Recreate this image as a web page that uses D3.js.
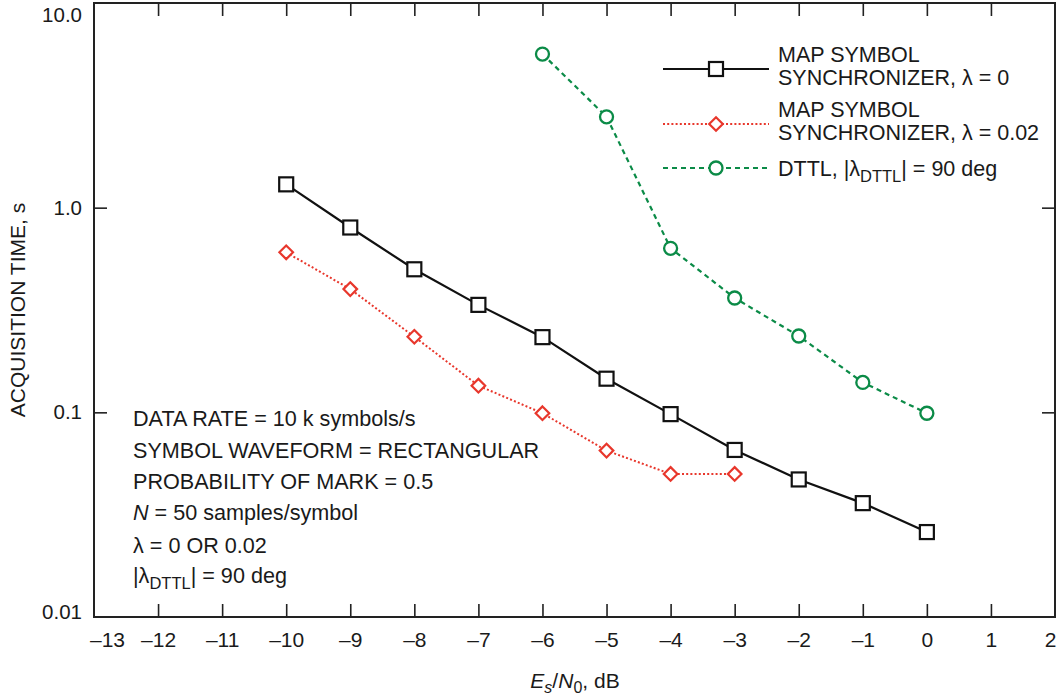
<!DOCTYPE html>
<html>
<head>
<meta charset="utf-8">
<script src="https://cdn.jsdelivr.net/npm/d3@7"></script>
<style>
  html, body { margin: 0; padding: 0; background: #fff; }
  svg { display: block; font-family: "Liberation Sans", Arial, Helvetica, sans-serif; }
  .axis path { display: none; }
  .axis line { stroke: #222; stroke-width: 1.6; }
  .axis text { fill: #1a1a1a; font-family: "Liberation Sans", Arial, sans-serif; }
</style>
</head>
<body>
<svg id="chart" width="1063" height="698"></svg>
<script>
// Es/N0 values (dB) and acquisition times (s) for each curve
const esnoMap0 = [-10, -9, -8, -7, -6, -5, -4, -3, -2, -1, 0];
const timeMap0 = [1.3, 0.8, 0.5, 0.335, 0.233, 0.146, 0.098, 0.0655, 0.047, 0.036, 0.026];

const esnoMap02 = [-10, -9, -8, -7, -6, -5, -4, -3];
const timeMap02 = [0.605, 0.40, 0.234, 0.135, 0.099, 0.065, 0.05, 0.05];

const esnoDttl = [-6, -5, -4, -3, -2, -1, 0];
const timeDttl = [5.63, 2.78, 0.633, 0.362, 0.236, 0.14, 0.099];

// axis ticks
const xTicks = [-13, -12, -11, -10, -9, -8, -7, -6, -5, -4, -3, -2, -1, 0, 1, 2];
const yTicks = [0.01, 0.1, 1, 10];
const yTickLabels = ["0.01", "0.1", "1.0", "10.0"];

// conditions listed inside the plot
const noteLines = [
  [{t: "DATA RATE = 10 k symbols/s"}],
  [{t: "SYMBOL WAVEFORM = RECTANGULAR"}],
  [{t: "PROBABILITY OF MARK = 0.5"}],
  [{t: "N", i: true}, {t: " = 50 samples/symbol"}],
  [{t: "λ = 0 OR 0.02"}],
  [{t: "|λ"}, {t: "DTTL", sub: true}, {t: "| = 90 deg", up: true}]
];

const svg = d3.select("#chart");
const L = 94, R = 1055, T = 3, B = 617;

const x = d3.scaleLinear().domain([-13, 2]).range([L, R]);
const y = d3.scaleLog().domain([0.01, 10]).range([B, T]);

const fmtX = d => d < 0 ? "\u2013" + Math.abs(d) : String(d);

// bottom axis with labels
const gB = svg.append("g").attr("class", "axis")
  .attr("transform", `translate(0,${B})`)
  .call(d3.axisBottom(x).tickValues(xTicks).tickSize(-13).tickPadding(15).tickFormat(fmtX));
gB.selectAll("text").attr("font-size", 21);
gB.selectAll(".tick").filter(d => d === -13 || d === 2).select("line").remove();
gB.selectAll(".tick").filter(d => d === -13).select("text").attr("dx", 13);
gB.selectAll(".tick").filter(d => d === 2).select("text").attr("dx", -5);

// top axis, ticks only
svg.append("g").attr("class", "axis")
  .attr("transform", `translate(0,${T})`)
  .call(d3.axisTop(x).tickValues(xTicks.slice(1, -1)).tickSize(-13).tickFormat(""));

// left axis with labels
const gL = svg.append("g").attr("class", "axis")
  .attr("transform", `translate(${L},0)`)
  .call(d3.axisLeft(y).tickValues(yTicks).tickSize(-13).tickPadding(12)
    .tickFormat((d, i) => yTickLabels[i]));
gL.selectAll("text").attr("font-size", 20.5);
gL.selectAll(".tick").filter(d => d === 10 || d === 0.01).select("line").remove();
gL.selectAll(".tick").filter(d => d === 10).select("text").attr("dy", "0.9em");
gL.selectAll(".tick").filter(d => d === 0.01).select("text").attr("dy", "0.05em");

// right axis, ticks only
svg.append("g").attr("class", "axis")
  .attr("transform", `translate(${R},0)`)
  .call(d3.axisRight(y).tickValues([0.1, 1]).tickSize(-13).tickFormat(""));

// frame
svg.append("rect")
  .attr("x", L).attr("y", T).attr("width", R - L).attr("height", B - T)
  .attr("fill", "none").attr("stroke", "#222").attr("stroke-width", 2);

// axis titles
svg.append("text")
  .attr("transform", `translate(25,${(T + B) / 2}) rotate(-90)`)
  .attr("text-anchor", "middle")
  .attr("font-size", 21).attr("fill", "#1a1a1a")
  .text("ACQUISITION TIME, s");

const xt = svg.append("text")
  .attr("x", 575).attr("y", 688)
  .attr("text-anchor", "middle")
  .attr("font-size", 21).attr("fill", "#1a1a1a");
xt.append("tspan").attr("font-style", "italic").text("E");
xt.append("tspan").attr("font-style", "italic").attr("font-size", 16).attr("dy", 5).text("s");
xt.append("tspan").attr("dy", -5).text("/");
xt.append("tspan").attr("font-style", "italic").text("N");
xt.append("tspan").attr("font-size", 16).attr("dy", 5).text("0");
xt.append("tspan").attr("dy", -5).text(", dB");

// series definitions
const series = [
  { xs: esnoMap0, ys: timeMap0, color: "#111", dash: null, width: 2.2, shape: "square" },
  { xs: esnoMap02, ys: timeMap02, color: "#e8372c", dash: "2,2.2", width: 2, shape: "diamond" },
  { xs: esnoDttl, ys: timeDttl, color: "#0b8b47", dash: "5,4", width: 2.2, shape: "circle" }
];

const line = d3.line().x(d => x(d[0])).y(d => y(d[1]));

function drawMarker(g, shape, cx, cy, color) {
  if (shape === "square") {
    g.append("rect").attr("x", cx - 7).attr("y", cy - 7).attr("width", 14).attr("height", 14)
      .attr("fill", "#fff").attr("stroke", color).attr("stroke-width", 2.2);
  } else if (shape === "diamond") {
    const r = 6.8;
    g.append("path").attr("d", `M${cx},${cy - r}L${cx + r},${cy}L${cx},${cy + r}L${cx - r},${cy}Z`)
      .attr("fill", "#fff").attr("stroke", color).attr("stroke-width", 2.2);
  } else {
    g.append("circle").attr("cx", cx).attr("cy", cy).attr("r", 6.5)
      .attr("fill", "#fff").attr("stroke", color).attr("stroke-width", 2.3);
  }
}

series.forEach(s => {
  const pts = s.xs.map((v, i) => [v, s.ys[i]]);
  const g = svg.append("g");
  g.append("path").datum(pts).attr("d", line)
    .attr("fill", "none").attr("stroke", s.color).attr("stroke-width", s.width)
    .attr("stroke-dasharray", s.dash);
  pts.forEach(p => drawMarker(g, s.shape, x(p[0]), y(p[1]), s.color));
});

// legend
const legendRows = [
  { lines: [[{t: "MAP SYMBOL"}], [{t: "SYNCHRONIZER, λ = 0"}]] },
  { lines: [[{t: "MAP SYMBOL"}], [{t: "SYNCHRONIZER, λ = 0.02"}]] },
  { lines: [[{t: "DTTL, |λ"}, {t: "DTTL", sub: true}, {t: "| = 90 deg", up: true}]] }
];
const legendLineY = [69, 124, 168];
const legendTextY = [[62, 85], [117, 140], [176]];

function writeRich(textSel, parts, subSize) {
  parts.forEach(p => {
    const ts = textSel.append("tspan").text(p.t);
    if (p.i) ts.attr("font-style", "italic");
    if (p.sub) ts.attr("font-size", subSize).attr("dy", 6);
    if (p.up) ts.attr("dy", -6);
  });
}

legendRows.forEach((row, i) => {
  const s = series[i];
  const ly = legendLineY[i];
  svg.append("line").attr("x1", 663).attr("x2", 769).attr("y1", ly).attr("y2", ly)
    .attr("stroke", s.color).attr("stroke-width", s.width).attr("stroke-dasharray", s.dash);
  drawMarker(svg.append("g"), s.shape, 716, ly, s.color);
  row.lines.forEach((parts, j) => {
    const t = svg.append("text").attr("x", 778).attr("y", legendTextY[i][j])
      .attr("font-size", 21.5).attr("fill", "#1a1a1a");
    writeRich(t, parts, 16.5);
  });
});

// notes
const noteY = [426, 458, 489, 520, 553, 583];
noteLines.forEach((parts, i) => {
  const t = svg.append("text").attr("x", 133).attr("y", noteY[i])
    .attr("font-size", 21.6).attr("fill", "#1a1a1a");
  writeRich(t, parts, 16.5);
});
</script>
</body>
</html>
